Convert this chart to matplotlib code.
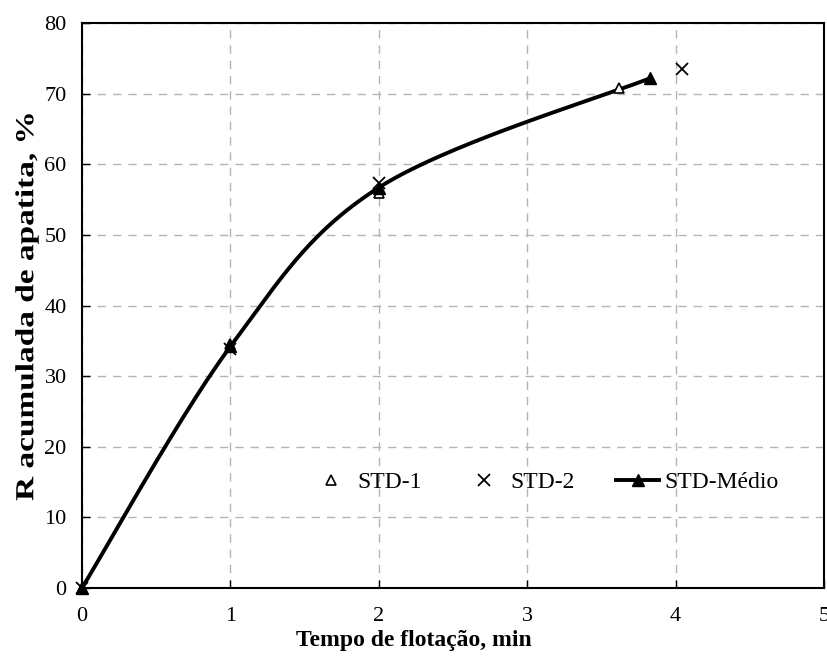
import numpy as np
import matplotlib
matplotlib.use("Agg")
import matplotlib.pyplot as plt
from matplotlib.patheffects import AbstractPathEffect
from matplotlib.transforms import Affine2D

plt.rcParams['font.family'] = ['Liberation Serif', 'DejaVu Serif']

# Flotation recovery data (min, %)
t_std1 = [0.0, 1.0, 2.0, 3.62]
r_std1 = [0.0, 34.6, 56.0, 70.8]

t_std2 = [0.0, 1.0, 2.0, 4.04]
r_std2 = [0.0, 33.8, 57.3, 73.5]

t_media = [0.0, 1.0, 2.0, 3.83]
r_media = [0.0, 34.2, 56.7, 72.2]

x_ticks = [0, 1, 2, 3, 4, 5]
y_ticks = [0, 10, 20, 30, 40, 50, 60, 70, 80]


class Narrow(AbstractPathEffect):
    """Render text compressed horizontally about its own centre."""

    def __init__(self, sx=0.8):
        super().__init__()
        self.sx = sx

    def draw_path(self, renderer, gc, tpath, affine, rgbFace=None):
        verts = affine.transform(tpath.vertices)
        if len(verts):
            cx = 0.5 * (verts[:, 0].min() + verts[:, 0].max())
        else:
            cx = 0.0
        squeeze = Affine2D().translate(-cx, 0).scale(self.sx, 1.0).translate(cx, 0)
        renderer.draw_path(gc, tpath, affine + squeeze, rgbFace)


def smooth_curve(x, y, n=60):
    """Cardinal Bezier smoothing through the given points."""
    x = np.asarray(x, float)
    y = np.asarray(y, float)
    px = np.concatenate([[x[0]], x, [x[-1]]])
    py = np.concatenate([[y[0]], y, [y[-1]]])
    xs, ys = [], []
    for i in range(1, len(px) - 2):
        p0 = np.array([px[i - 1], py[i - 1]])
        p1 = np.array([px[i], py[i]])
        p2 = np.array([px[i + 1], py[i + 1]])
        p3 = np.array([px[i + 2], py[i + 2]])
        c1 = p1 + (p2 - p0) / 6.0
        c2 = p2 - (p3 - p1) / 6.0
        s = np.linspace(0, 1, n)[:, None]
        b = ((1 - s) ** 3) * p1 + 3 * ((1 - s) ** 2) * s * c1 + 3 * (1 - s) * s ** 2 * c2 + s ** 3 * p2
        xs.append(b[:, 0])
        ys.append(b[:, 1])
    return np.concatenate(xs), np.concatenate(ys)


W, H = 827, 668
fig = plt.figure(figsize=(W / 100, H / 100), dpi=100)
L, R, T, B = 82, 824, 23, 588
ax = fig.add_axes([L / W, 1 - B / H, (R - L) / W, (B - T) / H])

ax.plot(t_std1, r_std1, linestyle='none', marker='^', markersize=6.5,
        markerfacecolor='white', markeredgecolor='black', markeredgewidth=1.2,
        label='STD-1', zorder=4, clip_on=False)
ax.plot(t_std2, r_std2, linestyle='none', marker='x', markersize=8,
        color='black', markeredgewidth=1.3, label='STD-2', zorder=4, clip_on=False)

sx, sy = smooth_curve(t_media, r_media)
ax.plot(sx, sy, color='black', linewidth=2.8, zorder=3, solid_capstyle='round')
ax.plot(t_media, r_media, linestyle='none', marker='^', markersize=8,
        color='black', zorder=5, clip_on=False)
# legend entry for the averaged series (line + marker)
ax.plot([], [], color='black', linewidth=2.8, marker='^', markersize=8,
        label='STD-Médio')

ax.set_xlim(0, 5)
ax.set_ylim(0, 80)
ax.set_xticks(x_ticks)
ax.set_yticks(y_ticks)
ax.grid(True, color='#b4b4b4', linestyle=(0, (6, 5)), linewidth=1.0)
ax.set_axisbelow(True)

for sp in ax.spines.values():
    sp.set_linewidth(1.5)
    sp.set_color('black')

ax.tick_params(axis='both', direction='in', length=6, width=1.0, labelsize=16)
ax.tick_params(axis='y', pad=11)
ax.tick_params(axis='x', pad=14)

ax.set_xlabel('Tempo de flotação, min', fontsize=17, fontweight='bold')
ax.xaxis.set_label_coords((414 - L) / (R - L), -(630 - B) / (B - T))

ylab = ax.set_ylabel('R acumulada de apatita, %', fontsize=24, fontweight='bold')
ylab.set_path_effects([Narrow(0.78)])
ax.yaxis.set_label_coords(-(L - 42) / (R - L), 0.5)

ax.legend(loc='center', bbox_to_anchor=((544 - L) / (R - L), (B - 482) / (B - T)),
          ncol=3, frameon=False, fontsize=17, handlelength=1.8,
          columnspacing=1.75, handletextpad=0.22, borderaxespad=0, borderpad=0)

fig.savefig('out.png', dpi=100)
